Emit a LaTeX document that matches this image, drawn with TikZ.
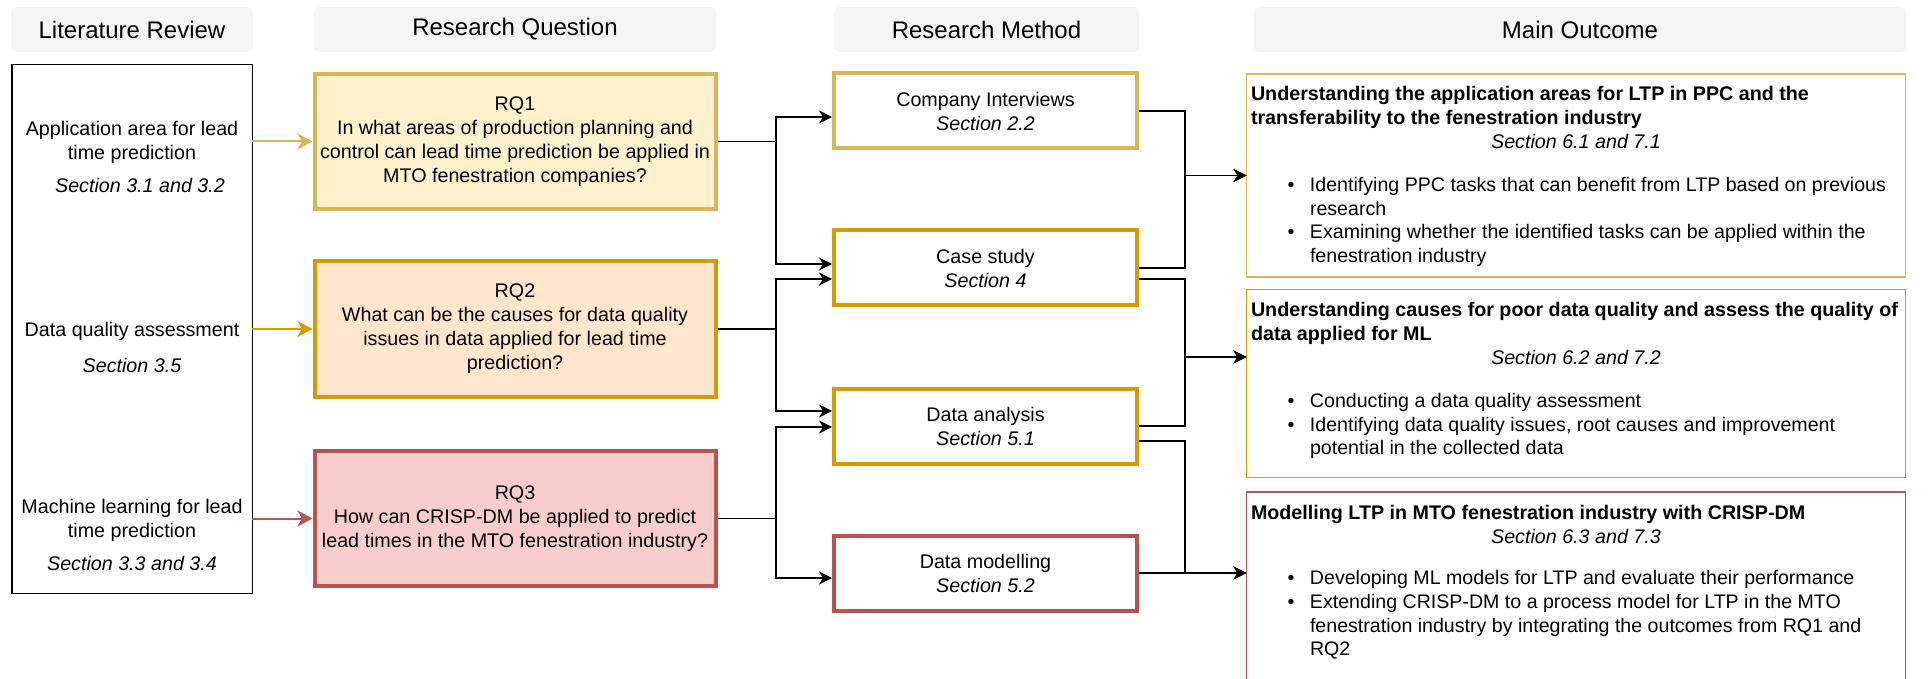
\documentclass[tikz,border=0pt]{standalone}
\usepackage{fontspec}
\setmainfont{Liberation Sans}
\usetikzlibrary{arrows.meta,calc}

\definecolor{hdrfill}{HTML}{F5F5F5}
\definecolor{ylwline}{HTML}{D6B656}
\definecolor{ylwfill}{HTML}{FFF2CC}
\definecolor{orgline}{HTML}{D79B00}
\definecolor{orgfill}{HTML}{FFE6CC}
\definecolor{redline}{HTML}{B85450}
\definecolor{redfill}{HTML}{F8CECC}

% bullet with hanging indent for the outcome lists
\newcommand{\obul}{\makebox[11.25pt][l]{•}}
\newcommand{\oind}{\hspace*{11.25pt}}

\begin{document}
\begin{tikzpicture}[x=0.5pt,y=-0.5pt,
  every node/.style={font=\fontsize{9.85pt}{12pt}\selectfont, inner sep=0pt, outer sep=0pt},
  hdr/.style={fill=hdrfill, rounded corners=2.5pt, minimum width=#1, minimum height=22.5pt,
    font=\fontsize{12pt}{14.4pt}\selectfont},
  rqbox/.style 2 args={draw=#1, fill=#2, line width=2pt, outer sep=1pt,
    minimum width=200.5pt, minimum height=67.5pt, align=center},
  mbox/.style={draw=#1, fill=white, line width=2pt, outer sep=1pt,
    minimum width=151.5pt, minimum height=37.5pt, align=center},
  obox/.style={draw=#1, line width=0.6pt, minimum width=329.5pt},
  conn/.style={line width=0.75pt, -{Stealth[length=6.5pt,width=6.5pt,inset=2pt]}},
  feed/.style={draw=#1, line width=1pt, -{Stealth[length=7.5pt,width=8pt,inset=2.2pt]}},
  ltext/.style={align=center},
  otitle/.style={anchor=west, align=left, font=\fontsize{9.85pt}{12pt}\selectfont\bfseries},
  osec/.style={font=\fontsize{9.85pt}{12pt}\selectfont\itshape},
  olist/.style={anchor=west, align=left, font=\fontsize{9.8pt}{11.85pt}\selectfont},
]
\useasboundingbox (0,0) rectangle (1928,679);
\clip (0,0) rectangle (1928,679);

% column headers
\node[hdr=121pt] (hLR) at (132,29.5) {Literature Review};
\node[hdr=201pt] (hRQ) at (515,29.5) {Research Question};
\node[hdr=152.5pt] (hRM) at (986.5,29.5) {Research Method};
\node[hdr=326pt] (hMO) at (1580,29.5) {Main Outcome};

% literature review column
\node[draw=black, line width=0.75pt, minimum width=120.25pt, minimum height=264.25pt] (LR) at (132,329) {};
\node[ltext] (lt1) at (132,157) {Application area for lead\\time prediction\\[4.5pt]\hspace*{8pt}\textit{Section 3.1 and 3.2}};
\node[ltext] (lt2) at (132,347) {Data quality assessment\\[6pt]\textit{Section 3.5}};
\node[ltext] (lt3) at (132,535) {Machine learning for lead\\time prediction\\[4.5pt]\textit{Section 3.3 and 3.4}};

% research questions
\node[rqbox={ylwline}{ylwfill}] (RQ1) at (515,141.5)
  {RQ1\\In what areas of production planning and\\control can lead time prediction be applied in\\MTO fenestration companies?};
\node[rqbox={orgline}{orgfill}] (RQ2) at (515,329)
  {RQ2\\What can be the causes for data quality\\issues in data applied for lead time\\prediction?};
\node[rqbox={redline}{redfill}] (RQ3) at (515,518.5)
  {RQ3\\How can CRISP-DM be applied to predict\\lead times in the MTO fenestration industry?};

% research methods
\node[mbox=ylwline] (CI) at (985.5,111) {Company Interviews\\\textit{Section 2.2}};
\node[mbox=orgline] (CS) at (985.5,268) {Case study\\\textit{Section 4}};
\node[mbox=orgline] (DA) at (985.5,426) {Data analysis\\\textit{Section 5.1}};
\node[mbox=redline] (DM) at (985.5,573) {Data modelling\\\textit{Section 5.2}};

% main outcomes
\node[obox=ylwline, minimum height=101.5pt] (O1) at (1576,175.5) {};
\node[obox=orgline, minimum height=94pt] (O2) at (1576,383.5) {};
\node[obox=redline, minimum height=118pt] (O3) at (1576,610) {};

\node[otitle] (o1t) at (1251,107) {Understanding the application areas for LTP in PPC and the\\transferability to the fenestration industry};
\node[osec] (o1s) at (1576,141) {Section 6.1 and 7.1};
\node[olist] (o1l) at (1287.5,222) {\obul Identifying PPC tasks that can benefit from LTP based on previous\\\oind research\\\obul Examining whether the identified tasks can be applied within the\\\oind fenestration industry};

\node[otitle] (o2t) at (1251,323) {Understanding causes for poor data quality and assess the quality of\\data applied for ML};
\node[osec] (o2s) at (1576,357) {Section 6.2 and 7.2};
\node[olist] (o2l) at (1287.5,426) {\obul Conducting a data quality assessment\\\obul Identifying data quality issues, root causes and improvement\\\oind potential in the collected data};

\node[otitle] (o3t) at (1251,514) {Modelling LTP in MTO fenestration industry with CRISP-DM};
\node[osec] (o3s) at (1576,536) {Section 6.3 and 7.3};
\node[olist] (o3l) at (1287.5,615) {\obul Developing ML models for LTP and evaluate their performance\\\obul Extending CRISP-DM to a process model for LTP in the MTO\\\oind fenestration industry by integrating the outcomes from RQ1 and\\\oind RQ2};

% literature to research questions
\draw[feed=ylwline] (LR.east |- RQ1.west) -- (RQ1.west);
\draw[feed=orgline] (LR.east |- RQ2.west) -- (RQ2.west);
\draw[feed=redline] (LR.east |- RQ3.west) -- (RQ3.west);

% bend columns and connector end points
\coordinate (xl) at (776,0);
\coordinate (xr) at (1185,0);
\coordinate (CIa) at ($(CI.west)+(0,6)$);
\coordinate (CSa) at ($(CS.west)+(0,-4)$);
\coordinate (CSb) at ($(CS.west)+(0,11)$);
\coordinate (DAa) at ($(DA.west)+(0,-15)$);
\coordinate (DAb) at ($(DA.west)+(0,1)$);
\coordinate (DMa) at ($(DM.west)+(0,5)$);
\coordinate (CSo) at ($(CS.east)+(0,11)$);
\coordinate (DAo) at ($(DA.east)+(0,15)$);
\coordinate (O2a) at ($(O2.west)+(0,-26.5)$);
\coordinate (O3a) at ($(O3.west)+(0,-37)$);

% research questions to methods
\draw[conn] (RQ1.east) -| (xl |- CIa) -- (CIa);
\draw[conn] (RQ1.east) -| (xl |- CSa) -- (CSa);
\draw[conn] (RQ2.east) -| (xl |- CSb) -- (CSb);
\draw[conn] (RQ2.east) -| (xl |- DAa) -- (DAa);
\draw[conn] (RQ3.east) -| (xl |- DAb) -- (DAb);
\draw[conn] (RQ3.east) -| (xl |- DMa) -- (DMa);

% methods to outcomes
\draw[conn] (CI.east) -| (xr |- O1.west) -- (O1.west);
\draw[conn] (CS.east) -| (xr |- O1.west) -- (O1.west);
\draw[conn] (CSo) -| (xr |- O2a) -- (O2a);
\draw[conn] (DA.east) -| (xr |- O2a) -- (O2a);
\draw[conn] (DAo) -| (xr |- O3a) -- (O3a);
\draw[conn] (DM.east) -- (O3a);
\end{tikzpicture}
\end{document}
